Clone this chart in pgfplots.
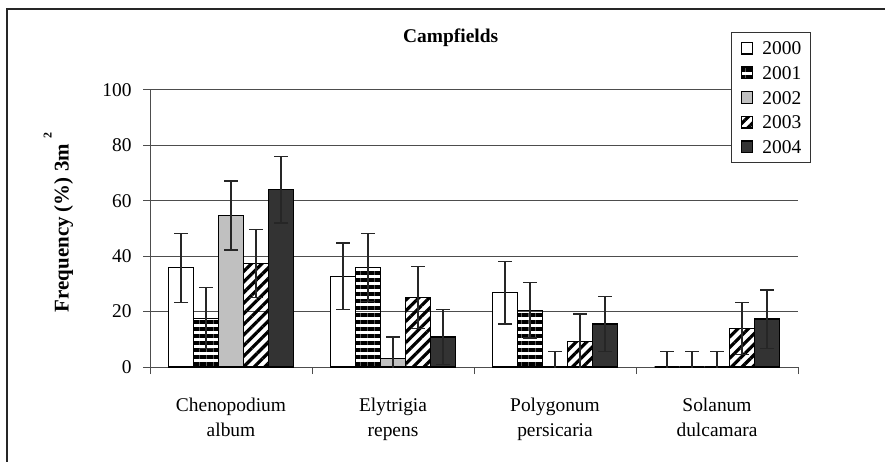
\documentclass[border=0pt]{standalone}
\usepackage{fontspec}
\setmainfont{Liberation Serif}
\usepackage{pgfplots}
\usepackage{pgfplotstable}
\pgfplotsset{compat=1.18}
\usetikzlibrary{patterns.meta}
\definecolor{gridc}{HTML}{4D4D4D}
\definecolor{lgray}{HTML}{C0C0C0}
\definecolor{dgray}{HTML}{333333}

\pgfplotstableread{
cat v0 e0 v1 e1 v2 e2 v3 e3 v4 e4
1 35.8 12.4 17.6 11.0 54.7 12.5 37.4 12.3 64.0 12.0
2 32.8 12.0 36.0 12.3 3.1 7.7 25.2 11.2 10.8 10.0
3 26.8 11.3 20.5 10.0 0 5.6 9.1 10.0 15.5 10.0
4 0 5.6 0 5.6 0 5.6 13.9 9.3 17.3 10.5
}\data

\pgfplotsset{
  sq/.style={legend image code/.code={\draw[##1] (0bp,-5.85bp) rectangle (11.7bp,5.85bp);}},
  bstyle/.style={draw=black, line width=1.2bp, sq},
}

\begin{document}
\begin{tikzpicture}[x=1bp,y=1bp]
\useasboundingbox (0,0) rectangle (885,-462);
\draw[black!85, line width=1.6bp] (6.7,-462) -- (6.7,-9.3) -- (885,-9.3);
\begin{axis}[
  at={(150bp,-367bp)}, anchor=south west,
  scale only axis, width=648bp, height=277bp,
  xmin=0.5, xmax=4.5, ymin=0, ymax=100,
  axis lines*=left,
  axis line style={gridc, line width=1bp},
  ytick={0,20,...,100},
  ymajorgrids, grid style={gridc, line width=1bp},
  xtick={1,2,3,4},
  xticklabels={Chenopodium\\album, Elytrigia\\repens, Polygonum\\persicaria, Solanum\\dulcamara},
  major x tick style={draw=none},
  minor xtick={0.5,1.5,2.5,3.5,4.5},
  minor x tick style={gridc, line width=1bp},
  minor tick length=7bp, major tick length=7bp,
  tick align=outside,
  tick style={gridc, line width=1bp},
  /pgf/number format/assume math mode=true,
  yticklabel style={font=\fontsize{19.5}{22}\selectfont, inner sep=0pt, xshift=-11.3bp},
  xticklabel style={font=\fontsize{19.5}{25}\selectfont, align=center, inner sep=0pt, yshift=-24bp},
  ybar=0pt, bar width=25bp,
  error bars/error bar style={line width=1.3bp, black!85},
  error bars/error mark options={line width=1.3bp, black!85, mark size=7bp, rotate=90},
  legend style={at={(0.8966,1.2094)}, anchor=north west, draw=black!80, line width=1bp,
    font=\fontsize{19.5}{22}\selectfont, inner xsep=9bp, inner ysep=9bp,
    row sep=11.5bp,
    nodes={inner sep=0pt, text height=13.2bp, text depth=0bp, anchor=west},
    /tikz/every odd column/.append style={column sep=9bp}},
  legend cell align=left,
]
\addplot[bstyle, fill=white, error bars/.cd, y dir=both, y explicit] table[x=cat, y=v0, y error=e0] {\data};
\addplot[bstyle, pattern={Lines[angle=0, distance=7bp, line width=3.5bp]}, error bars/.cd, y dir=both, y explicit] table[x=cat, y=v1, y error=e1] {\data};
\addplot[bstyle, fill=lgray, error bars/.cd, y dir=both, y explicit] table[x=cat, y=v2, y error=e2] {\data};
\addplot[bstyle, pattern={Lines[angle=45, distance=7.5bp, line width=3.2bp]}, error bars/.cd, y dir=both, y explicit] table[x=cat, y=v3, y error=e3] {\data};
\addplot[bstyle, fill=dgray, error bars/.cd, y dir=both, y explicit] table[x=cat, y=v4, y error=e4] {\data};
\legend{2000,2001,2002,2003,2004}
\end{axis}
\node[font=\bfseries\fontsize{19.5}{22}\selectfont, anchor=base] at (450.7,-43) {Campfields};
\node[rotate=90, anchor=base, font=\bfseries\fontsize{21}{24}\selectfont] at (68.5,-222.5) {Frequency (\%) 3m\hspace{0.25em}\raisebox{17bp}{\fontsize{12}{12}\selectfont 2}};
\end{tikzpicture}
\end{document}
